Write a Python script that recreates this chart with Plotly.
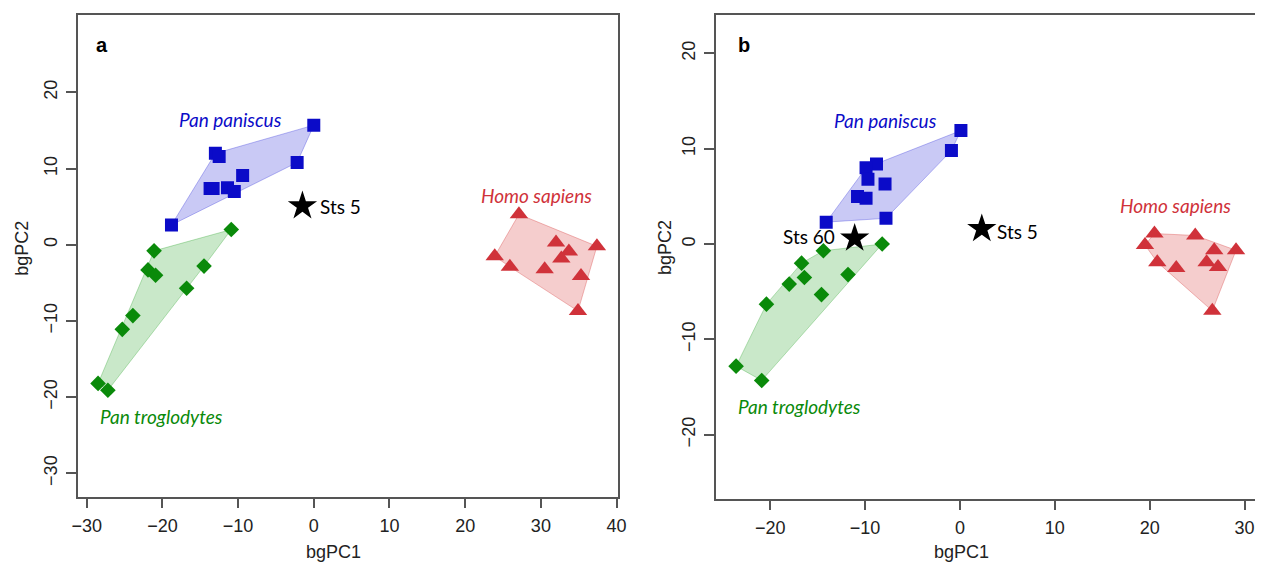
import plotly.graph_objects as go

# ---------------- data: panel a ----------------
a_pan_paniscus_x = [0.0, -13.0, -12.5, -2.2, -9.4, -13.7, -13.3, -11.4, -10.5, -18.8]
a_pan_paniscus_y = [15.7, 12.0, 11.6, 10.8, 9.1, 7.4, 7.4, 7.5, 7.0, 2.6]
a_pan_trog_x = [-10.9, -21.1, -21.9, -20.9, -14.5, -16.8, -23.9, -25.3, -28.5, -27.2]
a_pan_trog_y = [2.0, -0.8, -3.3, -4.0, -2.8, -5.7, -9.3, -11.1, -18.2, -19.1]
a_homo_x = [27.1, 23.9, 25.9, 32.0, 33.7, 32.7, 30.5, 37.4, 35.3, 34.9]
a_homo_y = [4.0, -1.5, -2.9, 0.3, -0.9, -1.8, -3.2, -0.2, -4.1, -8.7]
a_fossil_names = ["Sts 5"]
a_fossil_x = [-1.5]
a_fossil_y = [5.1]

# ---------------- data: panel b ----------------
b_pan_paniscus_x = [0.1, -0.9, -8.8, -9.9, -9.7, -7.9, -10.8, -9.9, -7.8, -14.1]
b_pan_paniscus_y = [11.9, 9.8, 8.4, 8.0, 6.8, 6.3, 5.0, 4.8, 2.7, 2.3]
b_pan_trog_x = [-8.2, -14.4, -16.7, -16.4, -18.0, -11.8, -14.6, -20.4, -23.6, -20.9]
b_pan_trog_y = [0.0, -0.7, -2.0, -3.5, -4.2, -3.2, -5.3, -6.3, -12.8, -14.3]
b_homo_x = [20.5, 19.5, 24.8, 26.8, 29.1, 20.8, 22.8, 26.0, 27.2, 26.6]
b_homo_y = [1.1, -0.1, 0.9, -0.65, -0.65, -1.9, -2.5, -1.9, -2.4, -7.0]
b_fossil_names = ["Sts 60", "Sts 5"]
b_fossil_x = [-11.1, 2.3]
b_fossil_y = [0.6, 1.6]

species = ["Pan paniscus", "Pan troglodytes", "Homo sapiens"]
x_ticks_a = [-30, -20, -10, 0, 10, 20, 30, 40]
y_ticks_a = [-30, -20, -10, 0, 10, 20]
x_ticks_b = [-20, -10, 0, 10, 20, 30]
y_ticks_b = [-20, -10, 0, 10, 20]

# ---------------- styles ----------------
COL = {"Pan paniscus": "#0b0bc8", "Pan troglodytes": "#0a8a0a", "Homo sapiens": "#d0323a"}
FILL = {"Pan paniscus": "rgba(60,60,220,0.28)", "Pan troglodytes": "rgba(30,160,30,0.24)",
        "Homo sapiens": "rgba(215,60,60,0.26)"}
EDGE = {"Pan paniscus": "rgba(60,60,220,0.35)", "Pan troglodytes": "rgba(30,160,30,0.3)",
        "Homo sapiens": "rgba(215,60,60,0.35)"}
SYM = {"Pan paniscus": ("square", 13), "Pan troglodytes": ("diamond", 12), "Homo sapiens": ("triangle-up", 16)}


def hull(xs, ys):
    pts = sorted(set(zip(xs, ys)))
    if len(pts) < 3:
        return pts

    def cross(o, a, b):
        return (a[0] - o[0]) * (b[1] - o[1]) - (a[1] - o[1]) * (b[0] - o[0])

    lower, upper = [], []
    for p in pts:
        while len(lower) >= 2 and cross(lower[-2], lower[-1], p) <= 0:
            lower.pop()
        lower.append(p)
    for p in reversed(pts):
        while len(upper) >= 2 and cross(upper[-2], upper[-1], p) <= 0:
            upper.pop()
        upper.append(p)
    h = lower[:-1] + upper[:-1]
    return h + [h[0]]


fig = go.Figure()

panels = [
    ("x", "y", {"Pan paniscus": (a_pan_paniscus_x, a_pan_paniscus_y),
                "Pan troglodytes": (a_pan_trog_x, a_pan_trog_y),
                "Homo sapiens": (a_homo_x, a_homo_y)},
     a_fossil_names, a_fossil_x, a_fossil_y),
    ("x2", "y2", {"Pan paniscus": (b_pan_paniscus_x, b_pan_paniscus_y),
                  "Pan troglodytes": (b_pan_trog_x, b_pan_trog_y),
                  "Homo sapiens": (b_homo_x, b_homo_y)},
     b_fossil_names, b_fossil_x, b_fossil_y),
]

for xa, ya, groups, fn, fx, fy in panels:
    for sp in species:
        xs, ys = groups[sp]
        h = hull(xs, ys)
        fig.add_trace(go.Scatter(x=[p[0] for p in h], y=[p[1] for p in h], mode="lines",
                                 fill="toself", fillcolor=FILL[sp],
                                 line=dict(color=EDGE[sp], width=1),
                                 xaxis=xa, yaxis=ya, hoverinfo="skip", showlegend=False))
    for sp in species:
        xs, ys = groups[sp]
        sym, sz = SYM[sp]
        fig.add_trace(go.Scatter(x=xs, y=ys, mode="markers",
                                 marker=dict(symbol=sym, size=sz, color=COL[sp], line=dict(width=0)),
                                 xaxis=xa, yaxis=ya, name=sp, showlegend=False))
    fig.add_trace(go.Scatter(x=fx, y=fy, mode="markers", text=fn,
                             marker=dict(symbol="star", size=22, color="black", line=dict(width=0)),
                             xaxis=xa, yaxis=ya, showlegend=False))

LABEL_FONT = "Lato"
SPFONT = dict(family=LABEL_FONT, size=19, style="italic")
C = dict(showarrow=False, xanchor="center", yanchor="middle")
ann = []
# species labels panel a
ann += [
    dict(x=-11.0, y=16.4, xref="x", yref="y", text="Pan paniscus", **C,
         font=dict(**SPFONT, color=COL["Pan paniscus"])),
    dict(x=29.4, y=6.5, xref="x", yref="y", text="Homo sapiens", **C,
         font=dict(**SPFONT, color=COL["Homo sapiens"])),
    dict(x=-20.1, y=-22.6, xref="x", yref="y", text="Pan troglodytes", **C,
         font=dict(**SPFONT, color=COL["Pan troglodytes"])),
    dict(x=0.6, y=5.0, xref="x", yref="y", text=a_fossil_names[0], showarrow=False, xanchor="left",
         yanchor="middle", font=dict(family=LABEL_FONT, size=19, color="black")),
]
# species labels panel b
ann += [
    dict(x=-7.8, y=13.0, xref="x2", yref="y2", text="Pan paniscus", **C,
         font=dict(**SPFONT, color=COL["Pan paniscus"])),
    dict(x=22.7, y=4.0, xref="x2", yref="y2", text="Homo sapiens", **C,
         font=dict(**SPFONT, color=COL["Homo sapiens"])),
    dict(x=-16.9, y=-17.0, xref="x2", yref="y2", text="Pan troglodytes", **C,
         font=dict(**SPFONT, color=COL["Pan troglodytes"])),
    dict(x=-13.0, y=0.8, xref="x2", yref="y2", text=b_fossil_names[0], showarrow=False, xanchor="right",
         yanchor="middle", font=dict(family=LABEL_FONT, size=19, color="black")),
    dict(x=3.7, y=1.3, xref="x2", yref="y2", text=b_fossil_names[1], showarrow=False, xanchor="left",
         yanchor="middle", font=dict(family=LABEL_FONT, size=19, color="black")),
]
W, H = 1264, 562
AX_FONT = dict(family="Liberation Sans, Arial", size=18, color="#222")
# panel letters
ann += [
    dict(x=97 / W, y=1 - 45 / H, xref="paper", yref="paper", text="<b>a</b>", **C,
         font=dict(family="Liberation Sans, Arial", size=20, color="black")),
    dict(x=747 / W, y=1 - 45 / H, xref="paper", yref="paper", text="<b>b</b>", **C,
         font=dict(family="Liberation Sans, Arial", size=20, color="black")),
]
# axis titles
ann += [
    dict(x=331 / W, y=1 - 552 / H, xref="paper", yref="paper", text="bgPC1", **C, font=AX_FONT),
    dict(x=967 / W, y=1 - 552 / H, xref="paper", yref="paper", text="bgPC1", **C, font=AX_FONT),
    dict(x=16 / W, y=1 - 248 / H, xref="paper", yref="paper", text="bgPC2", **C, font=AX_FONT,
         textangle=-90),
    dict(x=667 / W, y=1 - 248 / H, xref="paper", yref="paper", text="bgPC2", **C, font=AX_FONT,
         textangle=-90),
]

axis_common = dict(showline=True, linecolor="#555", linewidth=1.5, ticks="outside", ticklen=10,
                   tickwidth=1.5, tickcolor="#555", showgrid=False, zeroline=False,
                   tickfont=AX_FONT, fixedrange=True, ticklabelstandoff=2)

fig.update_layout(
    width=W, height=H, margin=dict(l=0, r=0, t=0, b=0),
    paper_bgcolor="white", plot_bgcolor="white", showlegend=False,
    annotations=ann,
    xaxis=dict(domain=[72.7 / W, 619.3 / W], range=[-31.17, 40.18], tickvals=x_ticks_a,
               mirror=True, anchor="y", **axis_common),
    yaxis=dict(domain=[1 - 496.7 / H, 1 - 14.7 / H], range=[-33.07, 30.2], tickvals=y_ticks_a,
               mirror=True, anchor="x", tickangle=-90, **axis_common),
    xaxis2=dict(domain=[718.7 / W, 1.0], range=[-25.7, 31.1], tickvals=x_ticks_b,
                mirror=True, anchor="y2", **axis_common),
    yaxis2=dict(domain=[1 - 498.7 / H, 1 - 14.7 / H], range=[-26.7, 24.05], tickvals=y_ticks_b,
                mirror=False, anchor="x2", tickangle=-90, **axis_common),
)

fig.write_html("out.html", config={"displayModeBar": False},
               post_script="document.body.style.margin='0';document.body.style.overflow='hidden';")
